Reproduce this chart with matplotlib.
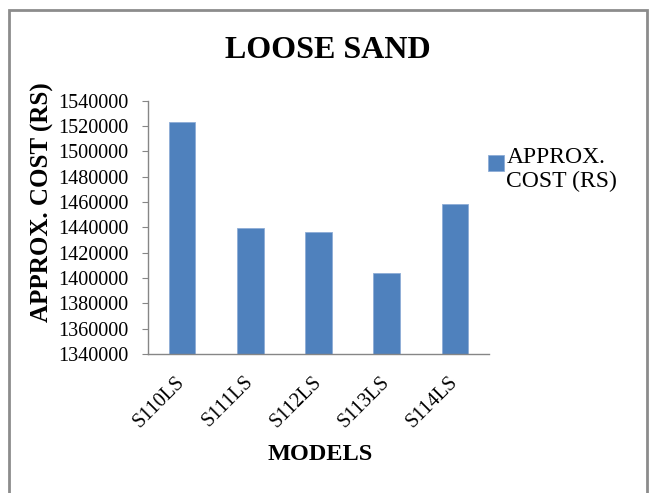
#!/usr/bin/env python3

"""Loose sand: approximate cost per model, bar chart in the old Excel look."""

import matplotlib
matplotlib.use("Agg")
import matplotlib.pyplot as plt
from matplotlib.patches import Rectangle
from matplotlib.container import BarContainer
from matplotlib.legend_handler import HandlerPatch, update_from_first_child

# * Data

models = ["S110LS", "S111LS", "S112LS", "S113LS", "S114LS"]
cost = [1523400, 1439200, 1436300, 1404200, 1458200]
yticks = list(range(1340000, 1540001, 20000))

# * Style

plt.rcParams['font.family'] = ['Liberation Serif', 'DejaVu Serif']
BAR = "#4F81BD"
AXIS = "#868686"

fig = plt.figure(figsize=(6.51, 4.93), dpi=100)
ax = fig.add_axes([148 / 651, 1 - 354 / 493, (489 - 148) / 651, (354 - 100.7) / 493])

x = range(len(models))
ax.bar(x, cost, width=0.39, color=BAR, edgecolor="#8EADD6", linewidth=0.6,
       label="APPROX.\nCOST (RS)")

ax.set_xlim(-0.5, len(models) - 0.5)
ax.set_ylim(yticks[0], yticks[-1])
ax.set_yticks(yticks)
ax.set_yticklabels([str(v) for v in yticks], fontsize=14.5)
ax.set_xticks(list(x))
ax.set_xticklabels(models, fontsize=14.5, rotation=45, ha="right", va="center",
                   rotation_mode="anchor")

for s in ("top", "right"):
    ax.spines[s].set_visible(False)
for s in ("left", "bottom"):
    ax.spines[s].set_color(AXIS)
    ax.spines[s].set_linewidth(1.0)
ax.tick_params(axis="y", direction="out", length=4, color=AXIS, pad=10)
ax.tick_params(axis="x", length=0, pad=18)

# Titles as figure texts, placed like the Excel chart.
fig.text(328 / 651, 1 - 50 / 493, "LOOSE SAND", fontsize=23, fontweight="bold",
         ha="center", va="center")
fig.text(42 / 651, 1 - 202 / 493, "APPROX. COST (RS)", fontsize=18,
         fontweight="bold", rotation=90, ha="center", va="center")
fig.text(320 / 651, 1 - 455 / 493, "MODELS", fontsize=17.5, fontweight="bold",
         ha="center", va="center")


# Small square handle sitting on the first line of a two line label.
def square_top(legend, orig_handle, xdescent, ydescent, width, height, fontsize):
    size = 0.68 * fontsize
    return Rectangle((-xdescent, -ydescent + height - size - 0.12 * fontsize), size, size)


ax.legend(loc="upper left", bbox_to_anchor=(488 / 651, 1 - 147 / 493),
          bbox_transform=fig.transFigure, frameon=False, fontsize=17,
          handlelength=0.68, handleheight=2.0, handletextpad=0.1,
          labelspacing=0.1, borderpad=0, borderaxespad=0,
          handler_map={BarContainer: HandlerPatch(patch_func=square_top,
                                                  update_func=update_from_first_child)})

# Chart frame.
fig.patches.append(Rectangle((9 / 651, -0.05), (647 - 9) / 651, 1.05 - 10 / 493,
                             transform=fig.transFigure, fill=False,
                             edgecolor="#8C8C8C", linewidth=2))

fig.savefig("out.png", dpi=100)
